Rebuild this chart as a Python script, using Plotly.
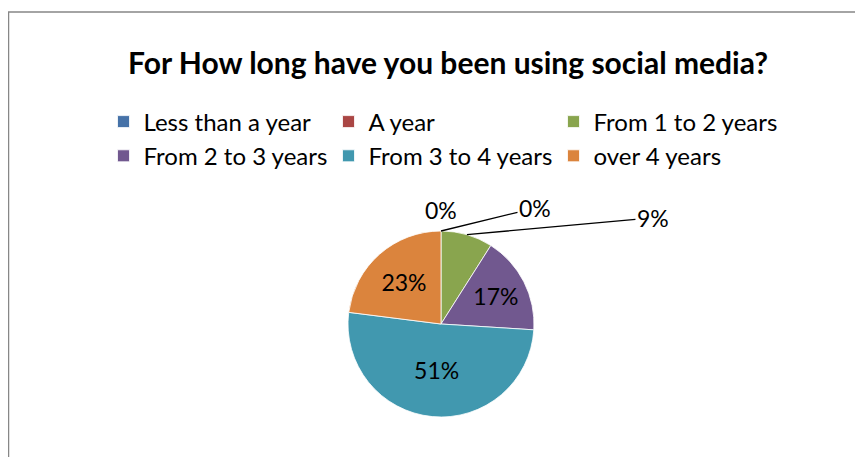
import math
import plotly.graph_objects as go

# ---- data ----
categories = ["Less than a year", "A year", "From 1 to 2 years",
              "From 2 to 3 years", "From 3 to 4 years", "over 4 years"]
values = [0, 0, 9, 17, 51, 23]
colors = ["#4672A8", "#AA4644", "#89A54E", "#71588F", "#4198AF", "#DB843D"]
title_text = "For How long have you been using social media?"

# page has an 8px body margin; figure is sized to fit the window
OX, OY = 8, 8
W, H = 855, 449
FONT = "Lato"


def px(sx):
    return (sx - OX) / W


def py(sy):
    return 1 - (sy - OY) / H


# pie geometry (screen pixels)
cx_s, cy_s, r_px = 441, 324, 93
dom_x = [px(cx_s - r_px), px(cx_s + r_px)]
dom_y = [py(cy_s + r_px), py(cy_s - r_px)]

total = sum(values)
inside_tpl = ["%{percent:.0%}" if v / total >= 0.1 else "" for v in values]

fig = go.Figure()
fig.add_trace(go.Pie(
    labels=categories,
    values=values,
    sort=False,
    direction="clockwise",
    rotation=0,
    marker=dict(colors=colors, line=dict(color="white", width=0.8)),
    texttemplate=inside_tpl,
    textposition="inside",
    insidetextorientation="horizontal",
    textfont=dict(family=FONT, size=23, color="black"),
    domain=dict(x=dom_x, y=dom_y),
    hoverinfo="label+percent",
    showlegend=True,
))

# outside labels with leader lines for the small slices
label_offsets = {0: None, 1: (94, -23), 2: (186, -17)}
cum = 0.0
for i, v in enumerate(values):
    frac = v / total
    mid = (cum + frac / 2) * 2 * math.pi
    cum += frac
    if frac >= 0.1:
        continue
    tx = px(cx_s + r_px * math.sin(mid))
    ty = py(cy_s - r_px * math.cos(mid))
    txt = f"{round(frac * 100)}%"
    off = label_offsets.get(i)
    if off is None:
        fig.add_annotation(x=tx, y=ty, xref="paper", yref="paper", text=txt,
                           showarrow=False, yshift=21, xanchor="center",
                           yanchor="middle",
                           font=dict(family=FONT, size=23, color="black"))
    else:
        fig.add_annotation(x=tx, y=ty, xref="paper", yref="paper", text=txt,
                           showarrow=True, arrowhead=0, arrowwidth=1.3,
                           arrowcolor="black", ax=off[0], ay=off[1],
                           standoff=0, startstandoff=0,
                           font=dict(family=FONT, size=23, color="black"))

# chart border
fig.add_shape(type="rect", xref="paper", yref="paper",
              x0=px(8.5), x1=1.05, y0=-0.05, y1=py(12),
              line=dict(color="#878787", width=1.5), fillcolor="rgba(0,0,0,0)")

fig.update_layout(
    width=W, height=H,
    margin=dict(l=0, r=0, t=0, b=0),
    paper_bgcolor="white",
    plot_bgcolor="white",
    title=dict(text=f"<b>{title_text}</b>", x=px(448), xanchor="center",
               y=py(63), yanchor="middle",
               font=dict(family=FONT, size=30, color="black")),
    legend=dict(orientation="h", x=px(103.5), xanchor="left",
                y=py(99.5), yanchor="top",
                entrywidth=180, entrywidthmode="pixels",
                font=dict(family=FONT, size=24, color="black"),
                bgcolor="rgba(0,0,0,0)"),
)

fig.write_html("out.html")
